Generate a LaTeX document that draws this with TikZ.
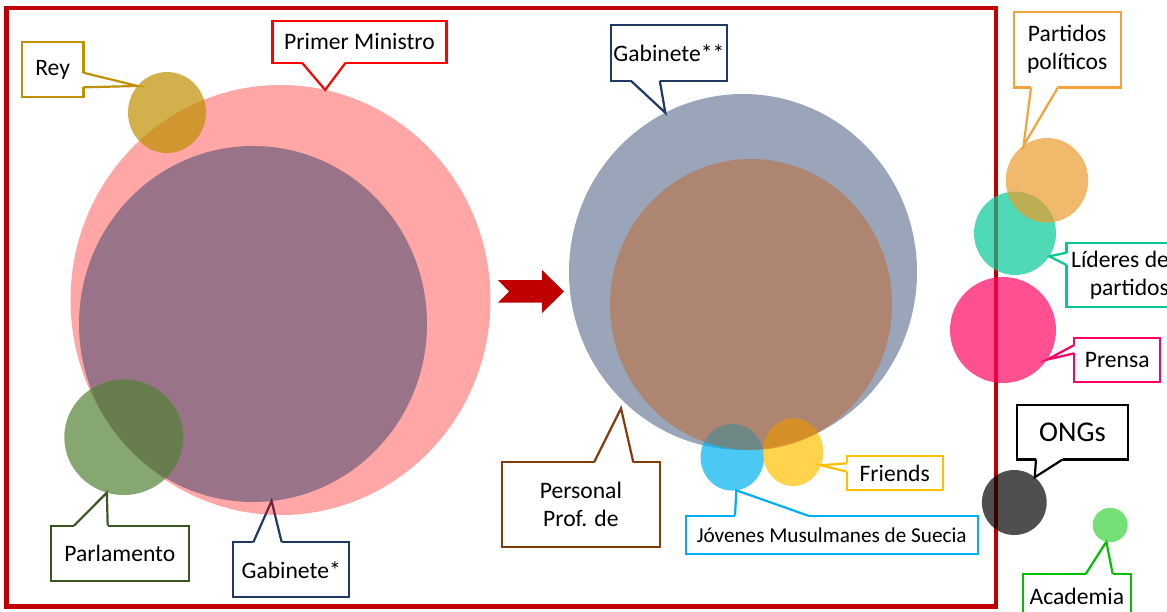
\documentclass[tikz,border=0pt]{standalone}
\usepackage{fontspec}
\setmainfont{Carlito}
\usepackage{tikz}
\usetikzlibrary{shapes.geometric}
\usetikzlibrary{calc}

\pgfdeclarelayer{back}
\pgfsetlayers{back,main}

\definecolor{framered}{HTML}{C00000}
\definecolor{reygold}{HTML}{BF9000}
\definecolor{pmred}{HTML}{FF0000}
\definecolor{navy}{HTML}{1F3864}
\definecolor{parlgreen}{HTML}{385723}
\definecolor{parlfill}{HTML}{548235}
\definecolor{persbrown}{HTML}{843C0C}
\definecolor{persfill}{HTML}{C55A11}
\definecolor{jovblue}{HTML}{00B0F0}
\definecolor{fryellow}{HTML}{FFC000}
\definecolor{partorange}{HTML}{F4A23A}
\definecolor{partfill}{HTML}{EB9B2C}
\definecolor{lidteal}{HTML}{00C896}
\definecolor{lidfill}{HTML}{05C998}
\definecolor{prenpink}{HTML}{FF0066}
\definecolor{prenfill}{HTML}{FF0562}
\definecolor{acadgreen}{HTML}{00C000}
\definecolor{acadfill}{HTML}{3AD33A}

% tail of a callout: colour, corner of the box, two offsets along its side, tip
\newcommand{\callouttail}[5]{%
  \draw[white, line width=\lw] ($(#2)+(#3)$) -- ($(#2)+(#4)$);
  \filldraw[fill=white, draw=#1, line width=\lw, line join=miter] ($(#2)+(#3)$) -- (#5) -- ($(#2)+(#4)$);
}

\begin{document}
\begin{tikzpicture}[x=0.5pt,y=-0.5pt]

\tikzset{
    callbox/.style={rectangle, draw=#1, fill=white, line width=\lw, inner sep=0pt, outer sep=0pt,
        align=center, font=\fontsize{11.8}{14}\selectfont},
    blob/.style={ellipse, inner sep=0pt, outer sep=0pt, fill=#1}
}
% variables
\def\lw{1.1pt}

\path[use as bounding box] (0,0) rectangle (1167,611);

% ------------ circles (left) ---------%
\node[blob=pmred, fill opacity=0.35, minimum width=210pt, minimum height=215pt] (pm) at (280.5,300) {};
\node[blob=navy, fill opacity=0.45, minimum width=174pt, minimum height=178pt] (gab1) at (253,324) {};
\node[blob=reygold, fill opacity=0.7, minimum width=39pt, minimum height=40.5pt] (rey) at (167,112.5) {};
\node[blob=parlfill, fill opacity=0.7, minimum width=59.5pt, minimum height=57.8pt] (parl) at (123.8,437.2) {};

% ------------ circles (middle) ---------%
\node[blob=navy, fill opacity=0.45, minimum width=174pt, minimum height=178pt] (gab2) at (743,272) {};
\node[blob=jovblue, fill opacity=0.7, minimum width=31.7pt, minimum height=33.3pt] (jov) at (732.3,457.3) {};
\node[blob=fryellow, fill opacity=0.7, minimum width=30.3pt, minimum height=33.9pt] (fr) at (793,452.2) {};
\node[blob=persfill, fill opacity=0.43, minimum width=141pt, minimum height=145.5pt] (pers) at (751,304.5) {};
\coordinate (persTip) at (621,408.3);

% ------------ circles (right) ---------%
\node[blob=lidfill, fill opacity=0.7, minimum width=41pt, minimum height=41.7pt] (lid) at (1015,233.3) {};
\node[blob=partfill, fill opacity=0.7, minimum width=41.2pt, minimum height=42.3pt] (part) at (1047,180.3) {};
\node[blob=prenfill, fill opacity=0.7, minimum width=53pt, minimum height=53pt] (pren) at (1003,330) {};
\node[blob=black, fill opacity=0.69, minimum width=32.4pt, minimum height=32.5pt] (ong) at (1014.3,502.5) {};
\node[blob=acadfill, fill opacity=0.7, minimum width=17.5pt, minimum height=17.2pt] (acad) at (1110.2,525) {};

\begin{pgfonlayer}{back}
\clip (0,0) rectangle (1167,611);

% frame and arrow
\draw[framered, line width=2.2pt] (6.5,8) rectangle (996,606.5);
\fill[framered] (498,280) -- (542,280) -- (542,270) -- (564,291.5) -- (542,313)
    -- (542,302.7) -- (498,302.7) -- (509,291.5) -- cycle;

% ----------- callouts ----------- %
\node[callbox=reygold, minimum width=30.8pt, minimum height=27.2pt] (reyBox) at (52.6,69.5) {Rey};
\node[callbox=pmred, minimum width=87pt, minimum height=21pt] (pmBox) at (359.5,41.7) {Primer Ministro};
\node[callbox=navy, minimum width=58pt, minimum height=27.7pt] (gab2Box) at (668.9,53) {Gabinete**};
\node[callbox=partorange, minimum width=53.6pt, minimum height=37.7pt] (partBox) at (1067.2,49.7) {Partidos\\políticos};
\node[callbox=lidteal, align=right, minimum width=53.5pt, minimum height=32.3pt] (lidBox) at (1120,275) {Líderes de\\partidos};
\node[callbox=prenpink, minimum width=42.9pt, minimum height=22pt] (prenBox) at (1117.2,360.3) {Prensa};
\node[callbox=black, minimum width=55.8pt, minimum height=27.2pt, font=\fontsize{14.3}{17}\selectfont] (ongBox) at (1072.5,432.2) {ONGs};
\node[callbox=acadgreen, minimum width=54.2pt, minimum height=22pt] (acadBox) at (1076.9,596) {Academia};
\node[callbox=fryellow, minimum width=48pt, minimum height=17pt] (frBox) at (894.7,473) {Friends};
\node[callbox=jovblue, minimum width=146pt, minimum height=19.3pt, font=\fontsize{10.6}{13}\selectfont] (jovBox) at (831.7,535) {Jóvenes Musulmanes de Suecia};
\node[callbox=persbrown, minimum width=79.2pt, minimum height=42.2pt] (persBox) at (580.9,504.5) {Personal\\Prof. de};
\node[callbox=parlgreen, minimum width=69.2pt, minimum height=27.5pt] (parlBox) at (119.9,553.2) {Parlamento};
\node[callbox=navy, minimum width=57.9pt, minimum height=27.5pt] (gab1Box) at (291.2,569.8) {Gabinete*};

% tails
\callouttail{reygold}{reyBox.north east}{0,30.4}{0,45}{rey.138}
\callouttail{pmred}{pmBox.south west}{29.5,0}{73.1,0}{pm.78}
\callouttail{navy}{gab2Box.south west}{19.9,0}{48.9,0}{gab2.116}
\callouttail{partorange}{partBox.south west}{17.4,0}{44.4,0}{part.124}
\callouttail{lidteal}{lidBox.north west}{0,10}{0,22.3}{lid.-34}
\callouttail{prenpink}{prenBox.north west}{0,6.7}{0,15}{pren.-34}
\callouttail{black}{ongBox.south west}{19.3,0}{46,0}{ong.51}
\callouttail{acadgreen}{acadBox.north west}{63,0}{90,0}{acad.257}
\callouttail{fryellow}{frBox.north west}{0,7.3}{0,15.7}{fr.-25}
\callouttail{jovblue}{jovBox.north west}{49.3,0}{122.6,0}{jov.277}
\callouttail{persbrown}{persBox.north west}{92.3,0}{131.6,0}{persTip}
\callouttail{parlgreen}{parlBox.north west}{23.3,0}{57,0}{parl.253}
\callouttail{navy}{gab1Box.north west}{20,0}{48.4,0}{gab1.276}
\end{pgfonlayer}

\end{tikzpicture}
\end{document}
